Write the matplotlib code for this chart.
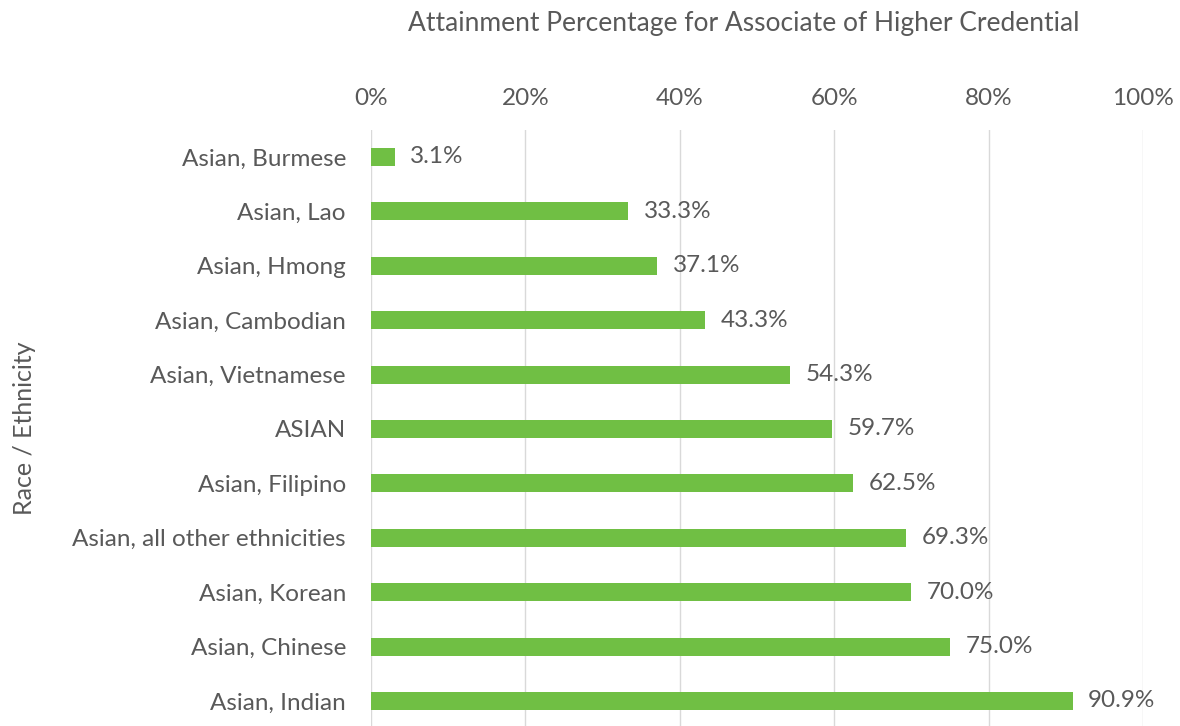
import matplotlib.pyplot as plt
import numpy as np

categories = [
    "Asian, Burmese",
    "Asian, Lao",
    "Asian, Hmong",
    "Asian, Cambodian",
    "Asian, Vietnamese",
    "ASIAN",
    "Asian, Filipino",
    "Asian, all other ethnicities",
    "Asian, Korean",
    "Asian, Chinese",
    "Asian, Indian",
]
values = [3.1, 33.3, 37.1, 43.3, 54.3, 59.7, 62.5, 69.3, 70.0, 75.0, 90.9]
x_ticks = [0, 20, 40, 60, 80, 100]

plt.rcParams["font.family"] = ["Lato", "DejaVu Sans"]
text_color = "#595959"
fs = 17.5

fig = plt.figure(figsize=(11.8, 7.26), dpi=100)
ax = fig.add_axes([0.3144, -0.003, 0.6542, 0.8243])

y = np.arange(len(categories))
ax.barh(y, values, height=0.33, color="#70BF44", zorder=3)
for yi, v in zip(y, values):
    ax.text(v + 2.0, yi, f"{v:.1f}%", va="center", ha="left",
            fontsize=fs, color=text_color)

ax.set_ylim(len(categories) - 0.5, -0.5)
ax.set_yticks(y)
ax.set_yticklabels(categories, fontsize=fs, color=text_color)
ax.set_xlim(0, 100)
ax.set_xticks(x_ticks)
ax.set_xticklabels([f"{t}%" for t in x_ticks], fontsize=fs, color=text_color)
ax.xaxis.tick_top()
ax.tick_params(axis="y", length=0, pad=18)
ax.tick_params(axis="x", length=0, pad=15)
ax.grid(axis="x", color="#D9D9D9", linewidth=1, zorder=0)
for s in ax.spines.values():
    s.set_visible(False)

fig.text(0.6305, 0.968, "Attainment Percentage for Associate of Higher Credential",
         ha="center", va="center", fontsize=19, color=text_color)
fig.text(0.021, 0.41, "Race / Ethnicity", rotation=90, va="center", ha="center",
         fontsize=18, color=text_color)

fig.savefig("out.png", dpi=100)
plt.close(fig)
